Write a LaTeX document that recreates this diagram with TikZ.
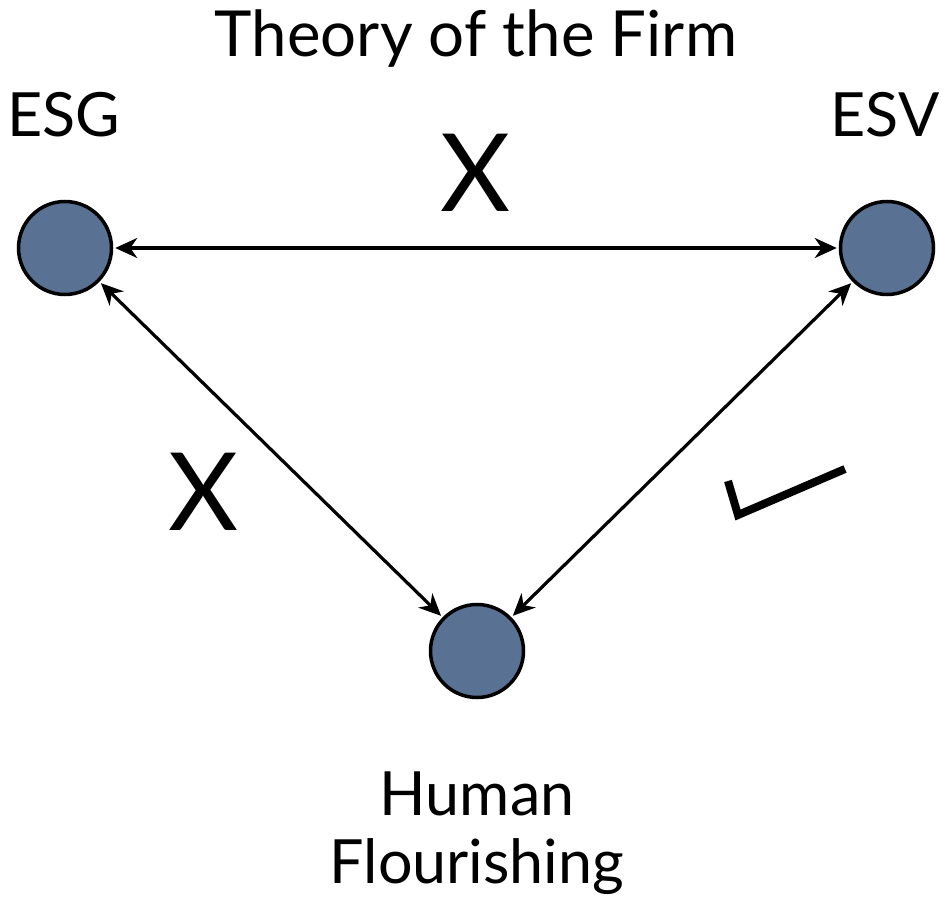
\documentclass[tikz,border=0pt]{standalone}
\usepackage{fontspec}
\setmainfont{Lato}
\usetikzlibrary{positioning, arrows.meta}

\definecolor{dotblue}{RGB}{89,113,147}

\tikzset{
  dot/.style={circle, draw=black, line width=3.5pt, fill=dotblue, minimum size=93pt, inner sep=0pt},
  link/.style={{Stealth[length=22pt,width=20pt,inset=7pt]}-{Stealth[length=22pt,width=20pt,inset=7pt]}, line width=3.2pt, shorten >=2pt, shorten <=2pt},
  label/.style={anchor=base, inner sep=0pt, font=\fontsize{61}{68}\selectfont},
  bigx/.style={anchor=base, inner sep=0pt, font=\fontsize{108}{110}\selectfont}
}

\begin{document}
\begin{tikzpicture}[x=1pt, y=-1pt]
        \useasboundingbox (0,0) rectangle (943,909);

        \node[label, font=\fontsize{63.5}{68}\selectfont] (title) at (476,57) {Theory of the Firm};

        % Nodes
        \node[dot] (esg) at (65,248) {};
        \node[dot] (esv) at (887,248) {};
        \node[dot] (human) at (477,651) {};

        \node[label] (esglbl) at (64,137) {ESG};
        \node[label] (esvlbl) at (885,137) {ESV};
        \node[label, align=center] (humanlbl) at (477,883) {Human\\Flourishing};

        % Links
        \draw[link] (esg) -- (esv);
        \draw[link] (esg) -- (human);
        \draw[link] (esv) -- (human);

        \node[bigx] (xtop) at (476,212) {X};
        \node[bigx] (xleft) at (204,530) {X};

        % Check mark
        \draw[line width=8pt] (728,481) -- (738,515) -- (845,469);
      \end{tikzpicture}
\end{document}
